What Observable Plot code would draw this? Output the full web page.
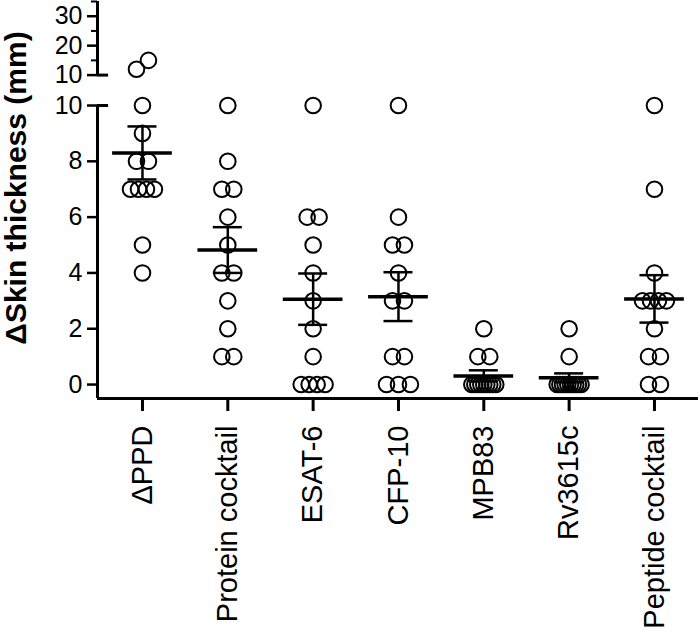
<!DOCTYPE html>
<html><head><meta charset="utf-8">
<script src="https://cdn.jsdelivr.net/npm/d3@7"></script>
<script src="https://cdn.jsdelivr.net/npm/@observablehq/plot@0.6"></script>
<style>body{margin:0;background:#fff} svg{overflow:visible}</style>
</head><body><div id="chart"></div>
<script>
const categories = ["ΔPPD", "Protein cocktail", "ESAT-6", "CFP-10", "MPB83", "Rv3615c", "Peptide cocktail"];
const dPPD = [15, 12, 10, 9, 8, 8, 7, 7, 7, 7, 5, 4];
const proteinCocktail = [10, 8, 7, 7, 6, 5, 4, 4, 3, 2, 1, 1];
const esat6 = [10, 6, 6, 5, 4, 3, 2, 1, 0, 0, 0, 0];
const cfp10 = [10, 6, 5, 5, 4, 3, 3, 1, 1, 0, 0, 0];
const mpb83 = [2, 1, 1, 0, 0, 0, 0, 0, 0, 0, 0, 0];
const rv3615c = [2, 1, 0, 0, 0, 0, 0, 0, 0, 0, 0, 0];
const peptideCocktail = [10, 7, 4, 3, 3, 3, 3, 2, 1, 1, 0, 0];
const seriesValues = [dPPD, proteinCocktail, esat6, cfp10, mpb83, rv3615c, peptideCocktail];
const meanValues = [8.3, 4.82, 3.06, 3.15, 0.31, 0.24, 3.07];
const semValues = [0.95, 0.82, 0.92, 0.875, 0.2, 0.16, 0.85];
const lowerTicks = [0, 2, 4, 6, 8, 10];
const upperTicks = [10, 20, 30];
const upperMinorTicks = [15, 25, 35];
const yTitle = "ΔSkin thickness (mm)";

// broken y axis: lower segment 0–10 linear, upper segment 10–35 compressed
const breakAt = 10, upperStart = 11.09, upperK = 0.1055, upperMax = 35, yFloor = -0.5;
const disp = v => v <= breakAt ? v : upperStart + (v - breakAt) * upperK;
const dispUpper = v => upperStart + (v - breakAt) * upperK;
const xMin = -0.527, xMax = 6.516;

const points = [];
seriesValues.forEach((vals, i) => {
  const groups = d3.group(vals.slice().sort((a, b) => a - b), v => v > breakAt ? "upper" : v);
  for (const [, arr] of groups) {
    const k = arr.length;
    const gap = k > 1 ? Math.min(0.14, 0.28 / (k - 1)) : 0;
    arr.forEach((v, j) => points.push({i, v, x: i + (j - (k - 1) / 2) * gap, y: disp(v)}));
  }
});
const stats = categories.map((c, i) => ({i, mean: meanValues[i], lo: meanValues[i] - semValues[i], hi: meanValues[i] + semValues[i]}));

const font = "Liberation Sans, Arial, Helvetica, sans-serif";
const chart = Plot.plot({
  width: 700, height: 633,
  marginLeft: 97, marginRight: 2, marginTop: 1, marginBottom: 235,
  style: {fontFamily: font, background: "white", color: "#000"},
  x: {domain: [xMin, xMax], axis: null},
  y: {domain: [yFloor, dispUpper(upperMax)], axis: null},
  marks: [
    // axis lines
    Plot.ruleY([yFloor], {strokeWidth: 3, stroke: "#000"}),
    Plot.ruleX([xMin], {y1: yFloor, y2: breakAt, strokeWidth: 3, stroke: "#000"}),
    Plot.ruleX([xMin], {y1: dispUpper(breakAt), y2: dispUpper(upperMax), strokeWidth: 3, stroke: "#000"}),
    // break markers
    Plot.ruleY([breakAt, dispUpper(breakAt)], {x1: xMin, x2: xMin + 0.13, strokeWidth: 3, stroke: "#000"}),
    // y ticks
    Plot.axisY({ticks: lowerTicks, tickSize: 10, tickPadding: 5, fontSize: 25, strokeWidth: 2.5, tickFormat: d => d, label: null}),
    Plot.axisY({ticks: upperTicks.map(dispUpper), tickSize: 10, tickPadding: 5, fontSize: 25, strokeWidth: 2.5,
      tickFormat: d => Math.round((d - upperStart) / upperK + breakAt), label: null}),
    Plot.axisY({ticks: upperMinorTicks.map(dispUpper), tickSize: 6, tickFormat: () => "", strokeWidth: 2, label: null}),
    // x ticks
    Plot.axisX({ticks: d3.range(categories.length), tickFormat: i => categories[i], tickSize: 13, tickPadding: 14,
      tickRotate: -90, fontSize: 29, strokeWidth: 3, label: null}),
    // title
    Plot.text([yTitle], {frameAnchor: "left", textAnchor: "middle", rotate: -90, dx: -81, dy: -12, fontSize: 30, fontWeight: "bold", fill: "#000"}),
    // points
    Plot.dot(points, {x: "x", y: "y", r: 7.8, stroke: "#000", strokeWidth: 2, fill: "none"}),
    // mean and SEM
    Plot.ruleX(stats, {x: "i", y1: "lo", y2: "hi", strokeWidth: 2.5, stroke: "#000"}),
    Plot.ruleY(stats, {y: "lo", x1: d => d.i - 0.17, x2: d => d.i + 0.17, strokeWidth: 2.5, stroke: "#000"}),
    Plot.ruleY(stats, {y: "hi", x1: d => d.i - 0.17, x2: d => d.i + 0.17, strokeWidth: 2.5, stroke: "#000"}),
    Plot.ruleY(stats, {y: "mean", x1: d => d.i - 0.35, x2: d => d.i + 0.35, strokeWidth: 3.5, stroke: "#000"})
  ]
});
document.getElementById("chart").appendChild(chart);
</script></body></html>
